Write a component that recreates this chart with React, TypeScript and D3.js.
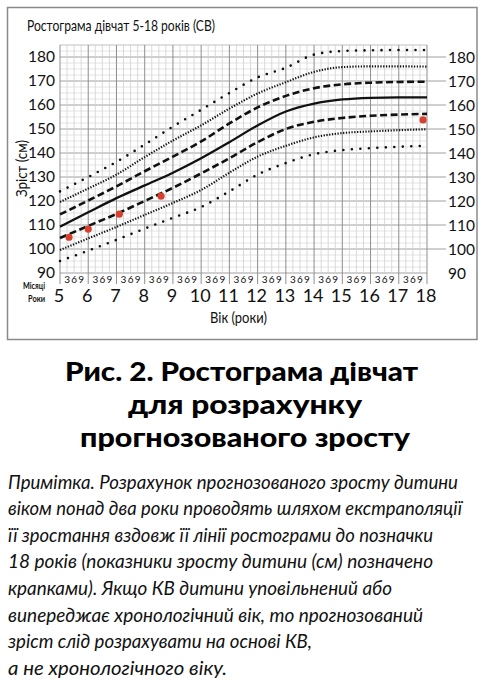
import React from 'react';
import * as d3 from 'd3';

const W = 483;
const H = 693;

const AGES = [5, 6, 7, 8, 9, 10, 11, 12, 13, 14, 15, 16, 17, 18];
const PLUS3 = [124.0, 130.0, 136.3, 143.5, 151.0, 158.0, 165.0, 171.5, 175.5, 181.0, 182.5, 182.8, 182.9, 182.9];
const PLUS2 = [119.6, 125.2, 131.0, 138.3, 145.2, 151.5, 158.5, 164.8, 169.5, 173.8, 175.8, 176.1, 176.1, 176.0];
const PLUS1 = [114.4, 120.2, 126.1, 132.4, 138.5, 144.8, 152.3, 159.0, 163.8, 167.0, 168.6, 169.3, 169.6, 169.7];
const MEDIAN = [109.3, 115.3, 121.2, 126.5, 131.8, 137.8, 144.5, 151.5, 157.3, 160.6, 162.3, 163.0, 163.2, 163.2];
const MINUS1 = [104.6, 109.6, 114.6, 120.0, 125.5, 131.5, 137.8, 144.5, 150.0, 153.0, 154.6, 155.5, 156.0, 156.3];
const MINUS2 = [99.6, 104.4, 109.2, 114.2, 119.2, 124.6, 131.8, 138.5, 143.0, 146.5, 148.3, 149.0, 149.5, 149.9];
const MINUS3 = [95.0, 99.3, 103.8, 108.5, 113.0, 117.5, 124.0, 131.0, 135.8, 139.5, 141.2, 142.0, 142.6, 143.0];

const POINT_AGES = [5.32, 6.0, 7.1, 8.58, 17.86];
const POINT_HEIGHTS = [104.9, 108.3, 114.5, 122.0, 153.8];

const Y_TICKS = [90, 100, 110, 120, 130, 140, 150, 160, 170, 180];
const MONTH_LABELS = ['3', '6', '9'];

const CHART_TITLE = 'Ростограма дівчат 5-18 років (СВ)';
const Y_TITLE = 'Зріст (см)';
const X_TITLE = 'Вік (роки)';
const MONTHS_LABEL = 'Місяці';
const YEARS_LABEL = 'Роки';
const CAPTION = ['Рис. 2. Ростограма дівчат', 'для розрахунку', 'прогнозованого зросту'];
const NOTE = [
  'Примітка. Розрахунок прогнозованого зросту дитини',
  'віком понад два роки проводять шляхом екстраполяції',
  'її зростання вздовж її лінії ростограми до позначки',
  '18 років (показники зросту дитини (см) позначено',
  'крапками). Якщо КВ дитини уповільнений або',
  'випереджає хронологічний вік, то прогнозований',
  'зріст слід розрахувати на основі КВ,',
  'а не хронологічного віку.',
];
const NOTE_WIDTHS = [450, 454, 425, 425, 384, 415, 304, 219];

const FONT = "Lato, 'Open Sans', sans-serif";

export default function App() {
  const x = d3.scaleLinear().domain([5, 18]).range([60, 427]);
  const y = d3.scaleLinear().domain([90, 185]).range([273, 45]);

  const line = d3
    .line<number>()
    .x((_, i) => x(AGES[i]))
    .y((d) => y(d))
    .curve(d3.curveMonotoneX);

  const quarters = d3.range(0, 13 * 4 + 1).map((i) => 5 + i * 0.25);
  const hLines = d3.range(0, 38 + 1).map((i) => 90 + i * 2.5);

  const curves = [
    { data: PLUS3, dash: '0 8.5', width: 2.6, cap: 'round' },
    { data: PLUS2, dash: '1.3 1.5', width: 2.1, cap: 'butt' },
    { data: PLUS1, dash: '7 3.5', width: 2.6, cap: 'butt' },
    { data: MEDIAN, dash: 'none', width: 2.3, cap: 'butt' },
    { data: MINUS1, dash: '7 3.5', width: 2.6, cap: 'butt' },
    { data: MINUS2, dash: '1.3 1.5', width: 2.1, cap: 'butt' },
    { data: MINUS3, dash: '0 8.5', width: 2.6, cap: 'round' },
  ];

  return (
    <svg
      width={W}
      height={H}
      style={{ position: 'absolute', left: 0, top: 0, background: '#fff' }}
      fontFamily={FONT}
    >
      <rect x={0} y={0} width={W} height={H} fill="#fff" />
      <rect x={7.5} y={7.5} width={469.5} height={332} fill="none" stroke="#8a8a8a" strokeWidth={1.5} />

      <text x={27} y={31} fontSize={15} textLength={188} lengthAdjust="spacingAndGlyphs" fill="#111">
        {CHART_TITLE}
      </text>

      {/* grid */}
      {hLines.map((v, i) => (
        <line
          key={'h' + i}
          x1={x(5)}
          x2={x(18)}
          y1={y(v)}
          y2={y(v)}
          stroke={i % 4 === 0 ? '#a0a0a0' : '#dcdcdc'}
          strokeWidth={i % 4 === 0 ? 1 : 0.8}
        />
      ))}
      <line x1={x(5)} x2={x(18)} y1={y(185)} y2={y(185)} stroke="#c8c8c8" strokeWidth={0.8} />
      {quarters.map((a, i) => (
        <line
          key={'v' + i}
          x1={x(a)}
          x2={x(a)}
          y1={y(185)}
          y2={i % 4 === 0 ? y(90) + 11 : y(90)}
          stroke={i % 4 === 0 ? '#8f8f8f' : '#d0d0d0'}
          strokeWidth={i % 4 === 0 ? 1 : 0.8}
        />
      ))}

      {/* right-side tick lines */}
      {Y_TICKS.filter((t) => t > 90).map((t) => (
        <line key={'rt' + t} x1={x(18)} x2={446} y1={y(t)} y2={y(t)} stroke="#a0a0a0" strokeWidth={1} />
      ))}

      {/* y labels */}
      {Y_TICKS.map((t) => (
        <text key={'yl' + t} x={55} y={y(t) - 1} dy="0.36em" textAnchor="end" fontSize={15.5} fill="#111">
          {t}
        </text>
      ))}
      {Y_TICKS.map((t) => (
        <text key={'yr' + t} x={448} y={y(t)} dy="0.36em" fontSize={15.5} fill="#111">
          {t}
        </text>
      ))}

      <text
        transform={`translate(27,${168.5}) rotate(-90)`}
        textAnchor="middle"
        fontSize={15}
        textLength={57}
        lengthAdjust="spacingAndGlyphs"
        fill="#111"
      >
        {Y_TITLE}
      </text>

      {/* curves */}
      {curves.map((c, i) => (
        <path
          key={'c' + i}
          d={line(c.data) || ''}
          fill="none"
          stroke="#111"
          strokeWidth={c.width}
          strokeDasharray={c.dash}
          strokeLinecap={c.cap as any}
        />
      ))}

      {/* red points */}
      {POINT_AGES.map((a, i) => (
        <circle key={'p' + i} cx={x(a)} cy={y(POINT_HEIGHTS[i])} r={3.6} fill="#d8402e" />
      ))}

      {/* month labels */}
      {AGES.slice(0, -1).map((a) =>
        MONTH_LABELS.map((m, j) => (
          <text
            key={'m' + a + m}
            x={x(a + (j + 1) * 0.25)}
            y={283}
            textAnchor="middle"
            fontSize={10}
            fill="#111"
          >
            {m}
          </text>
        ))
      )}

      {/* year labels */}
      {AGES.map((a) => (
        <text key={'yr' + a} x={x(a) - 1} y={302} textAnchor="middle" fontSize={18} fill="#111">
          {a}
        </text>
      ))}

      <text x={45} y={289} textAnchor="end" fontSize={9} fontWeight={700} textLength={22} lengthAdjust="spacingAndGlyphs" fill="#111">
        {MONTHS_LABEL}
      </text>
      <text x={45} y={302} textAnchor="end" fontSize={9} fontWeight={700} textLength={17} lengthAdjust="spacingAndGlyphs" fill="#111">
        {YEARS_LABEL}
      </text>

      <text x={210} y={323} fontSize={15.5} textLength={57} lengthAdjust="spacingAndGlyphs" fill="#111">
        {X_TITLE}
      </text>

      {/* caption */}
      {CAPTION.map((c, i) => (
        <text
          key={'cap' + i}
          x={i === 0 ? 65 : i === 1 ? 128 : 80}
          y={381 + i * 33}
          fontSize={27}
          fontWeight={900}
          textLength={i === 0 ? 353 : i === 1 ? 234 : 330}
          lengthAdjust="spacingAndGlyphs"
          fill="#000"
        >
          {c}
        </text>
      ))}

      {/* note */}
      {NOTE.map((n, i) => (
        <text
          key={'n' + i}
          x={8}
          y={488.5 + i * 26.6}
          fontSize={19}
          fontStyle="italic"
          textLength={NOTE_WIDTHS[i]}
          lengthAdjust="spacingAndGlyphs"
          fill="#111"
        >
          {n}
        </text>
      ))}
    </svg>
  );
}
